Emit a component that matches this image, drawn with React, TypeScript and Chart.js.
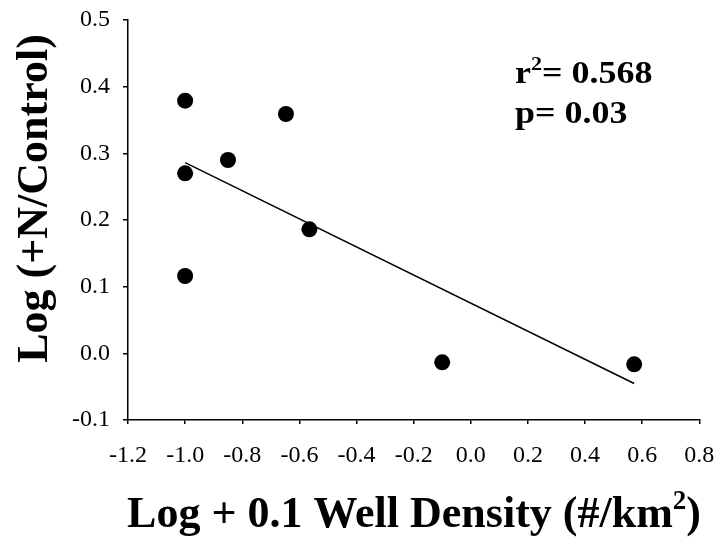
import React, { useEffect, useRef } from "react";
import { Chart, registerables } from "chart.js";

Chart.register(...registerables);

// ---- data ----
const wellDensityLog: number[] = [-1.0, -1.0, -1.0, -0.85, -0.647, -0.565, -0.1, 0.572];
const nResponseLog: number[] = [0.379, 0.27, 0.116, 0.29, 0.359, 0.186, -0.0135, -0.0165];
const xTickValues: number[] = [-1.2, -1.0, -0.8, -0.6, -0.4, -0.2, 0.0, 0.2, 0.4, 0.6, 0.8];
const yTickValues: number[] = [-0.1, 0.0, 0.1, 0.2, 0.3, 0.4, 0.5];
const rSquaredText = "0.568";
const pValueText = "0.03";
const xTitleMain = "Log + 0.1 Well Density (#/km";
const xTitleSup = "2";
const xTitleEnd = ")";
const yTitle = "Log (+N/Control)";

const FONT = "'Liberation Serif', 'Times New Roman', serif";

// least-squares fit of the data (regression line)
function fitLine(xs: number[], ys: number[]) {
  const n = xs.length;
  const mx = xs.reduce((a, b) => a + b, 0) / n;
  const my = ys.reduce((a, b) => a + b, 0) / n;
  let sxy = 0;
  let sxx = 0;
  for (let i = 0; i < n; i++) {
    sxy += (xs[i] - mx) * (ys[i] - my);
    sxx += (xs[i] - mx) * (xs[i] - mx);
  }
  const slope = sxy / sxx;
  const intercept = my - slope * mx;
  const x0 = Math.min(...xs);
  const x1 = Math.max(...xs);
  return [
    { x: x0, y: intercept + slope * x0 },
    { x: x1, y: intercept + slope * x1 },
  ];
}

type Part = { text: string; sup?: boolean };

function drawParts(
  ctx: CanvasRenderingContext2D,
  parts: Part[],
  x: number,
  y: number,
  size: number,
  align: "left" | "center"
) {
  const supSize = Math.round(size * 0.62);
  let total = 0;
  const widths = parts.map((p) => {
    ctx.font = `bold ${p.sup ? supSize : size}px ${FONT}`;
    const w = ctx.measureText(p.text).width;
    total += w;
    return w;
  });
  let cx = align === "center" ? x - total / 2 : x;
  parts.forEach((p, i) => {
    ctx.font = `bold ${p.sup ? supSize : size}px ${FONT}`;
    ctx.fillText(p.text, cx, p.sup ? y - size * 0.4 : y);
    cx += widths[i];
  });
}

const textPlugin = {
  id: "textPlugin",
  afterDraw(chart: any) {
    const ctx: CanvasRenderingContext2D = chart.ctx;
    const area = chart.chartArea;
    ctx.save();
    ctx.fillStyle = "#000";
    ctx.textAlign = "left";
    ctx.textBaseline = "alphabetic";

    // statistics annotation
    const ax = area.left + 387;
    ctx.save();
    ctx.translate(ax, area.top + 63);
    ctx.scale(1, 0.9);
    drawParts(ctx, [{ text: "r" }, { text: "2", sup: true }, { text: "= " + rSquaredText }], 0, 0, 36, "left");
    ctx.restore();
    ctx.save();
    ctx.translate(ax, area.top + 103);
    ctx.scale(1, 0.9);
    drawParts(ctx, [{ text: "p= " + pValueText }], 0, 0, 36, "left");
    ctx.restore();

    // x axis title
    drawParts(
      ctx,
      [{ text: xTitleMain }, { text: xTitleSup, sup: true }, { text: xTitleEnd }],
      414,
      area.bottom + 107,
      44,
      "center"
    );

    // y axis title
    ctx.translate(36, 198.5);
    ctx.rotate(-Math.PI / 2);
    ctx.textBaseline = "middle";
    drawParts(ctx, [{ text: yTitle }], 0, 0, 44, "center");
    ctx.restore();
  },
};

const fmt = (v: any) => {
  const n = Number(v);
  return Math.abs(n) < 1e-9 ? "0.0" : n.toFixed(1);
};

const zeroPad = (s: any) => {
  s.paddingLeft = 0;
  s.paddingRight = 0;
  s.paddingTop = 0;
  s.paddingBottom = 0;
};

export default function App() {
  const canvasRef = useRef<HTMLCanvasElement | null>(null);

  useEffect(() => {
    const canvas = canvasRef.current;
    if (!canvas) return;
    const points = wellDensityLog.map((x, i) => ({ x, y: nResponseLog[i] }));
    const chart = new Chart(canvas, {
      type: "scatter",
      data: {
        datasets: [
          {
            type: "line",
            data: fitLine(wellDensityLog, nResponseLog),
            borderColor: "#000",
            borderWidth: 1.5,
            pointRadius: 0,
            fill: false,
          } as any,
          {
            data: points,
            backgroundColor: "#000",
            borderColor: "#000",
            borderWidth: 0,
            pointRadius: 8,
          },
        ],
      },
      options: {
        animation: false,
        responsive: false,
        maintainAspectRatio: false,
        layout: { padding: { left: 0, top: 20, right: 19.7, bottom: 0 } },
        plugins: {
          legend: { display: false },
          tooltip: { enabled: false },
        },
        scales: {
          x: {
            type: "linear",
            min: -1.2,
            max: 0.8,
            afterBuildTicks: (s: any) => {
              s.ticks = xTickValues.map((v) => ({ value: v }));
            },
            afterFit: (s: any) => {
              s.height = 124;
              zeroPad(s);
            },
            grid: {
              drawOnChartArea: false,
              drawTicks: true,
              tickLength: 4,
              color: "#000",
              lineWidth: 1.5,
            },
            border: { display: true, color: "#000", width: 1.5 },
            ticks: {
              padding: 17,
              color: "#000",
              font: { family: FONT, size: 24 },
              callback: fmt,
              maxRotation: 0,
              autoSkip: false,
            },
          },
          y: {
            type: "linear",
            min: -0.1,
            max: 0.5,
            afterBuildTicks: (s: any) => {
              s.ticks = yTickValues.map((v) => ({ value: v }));
            },
            afterFit: (s: any) => {
              s.width = 128;
              zeroPad(s);
            },
            grid: {
              drawOnChartArea: false,
              drawTicks: true,
              tickLength: 5,
              color: "#000",
              lineWidth: 1.5,
            },
            border: { display: true, color: "#000", width: 1.5 },
            ticks: {
              padding: 13,
              color: "#000",
              font: { family: FONT, size: 24 },
              callback: fmt,
              autoSkip: false,
            },
          },
        },
      },
      plugins: [textPlugin],
    });
    return () => chart.destroy();
  }, []);

  return (
    <div style={{ position: "fixed", left: 0, top: 0, width: 719, height: 544, background: "#fff" }}>
      <canvas ref={canvasRef} width={719} height={544} style={{ display: "block", width: 719, height: 544 }} />
    </div>
  );
}
